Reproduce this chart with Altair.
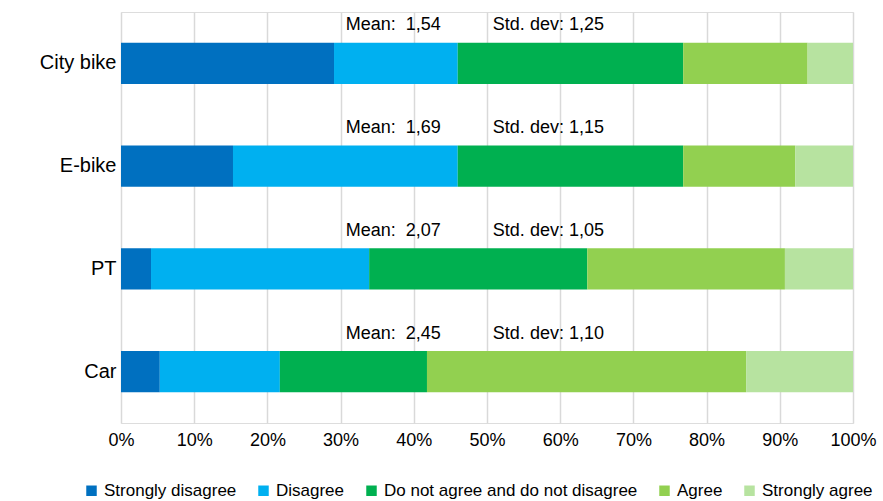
import altair as alt
import pandas as pd

# Survey answers per transport mode (share of respondents, %)
modes = ["City bike", "E-bike", "PT", "Car"]
levels = ["Strongly disagree", "Disagree", "Do not agree and do not disagree",
          "Agree", "Strongly agree"]
strongly_disagree = [29.1, 15.3, 4.1, 5.3]
disagree = [16.9, 30.7, 29.8, 16.4]
neutral = [30.8, 30.8, 29.8, 20.1]
agree = [17.0, 15.3, 27.0, 43.6]
strongly_agree = [6.2, 7.9, 9.3, 14.6]
means = ["1,54", "1,69", "2,07", "2,45"]
std_devs = ["1,25", "1,15", "1,05", "1,10"]
tick_values = [0, 0.1, 0.2, 0.3, 0.4, 0.5, 0.6, 0.7, 0.8, 0.9, 1.0]

colors = ["#0070C0", "#00B0F0", "#00B050", "#92D050", "#B7E3A0"]

series = [strongly_disagree, disagree, neutral, agree, strongly_agree]
rows = []
for li, (level, vals) in enumerate(zip(levels, series)):
    for mode, v in zip(modes, vals):
        rows.append({"mode": mode, "level": level, "order": li, "share": v})
df = pd.DataFrame(rows)

stats = pd.DataFrame({
    "mode": modes,
    "mean_label": ["Mean:\u00a0 " + m for m in means],
    "sd_label": ["Std. dev: " + s for s in std_devs],
    "mean_x": [0.307] * len(modes),
    "sd_x": [0.508] * len(modes),
})

FONT = "Liberation Sans"

y_enc = alt.Y("mode:N", sort=modes, title=None,
              scale=alt.Scale(paddingInner=0.6, paddingOuter=0.3),
              axis=alt.Axis(domain=False, ticks=False, labelFontSize=20,
                            labelColor="#000000", labelPadding=5, labelFont=FONT))

bars = alt.Chart(df).mark_bar().encode(
    x=alt.X("share:Q", stack="normalize", title=None,
            scale=alt.Scale(domain=[0, 1]),
            axis=alt.Axis(format=".0%", values=tick_values, domain=False, ticks=False,
                          grid=True, gridColor="#D9D9D9", gridWidth=1.5,
                          labelFontSize=18, labelColor="#000000", labelPadding=8,
                          labelFont=FONT, labelFlush=False, labelOverlap=False)),
    y=y_enc,
    color=alt.Color("level:N", sort=levels,
                    scale=alt.Scale(domain=levels, range=colors),
                    legend=alt.Legend(title=None, orient="none", direction="horizontal",
                                      legendX=-38, legendY=470,
                                      symbolType="square", symbolSize=110,
                                      symbolStrokeWidth=0, labelFontSize=17,
                                      labelFont=FONT,
                                      labelColor="#000000", columnPadding=18,
                                      labelOffset=4, labelLimit=400)),
    order=alt.Order("order:Q"),
)

mean_text = alt.Chart(stats).mark_text(
    align="left", baseline="middle", dy=-38, fontSize=18, font=FONT, color="#000000"
).encode(x="mean_x:Q", y=alt.Y("mode:N", sort=modes), text="mean_label:N")

sd_text = alt.Chart(stats).mark_text(
    align="left", baseline="middle", dy=-38, fontSize=18, font=FONT, color="#000000"
).encode(x="sd_x:Q", y=alt.Y("mode:N", sort=modes), text="sd_label:N")

chart = alt.layer(bars, mean_text, sd_text).properties(
    width=732, height=411,
    autosize=alt.AutoSizeParams(type="none"),
    padding={"left": 121, "top": 12, "right": 30, "bottom": 78},
).configure_view(stroke=None).configure(background="#FFFFFF")

chart.save("out.html", embed_options={"renderer": "svg", "actions": False})
